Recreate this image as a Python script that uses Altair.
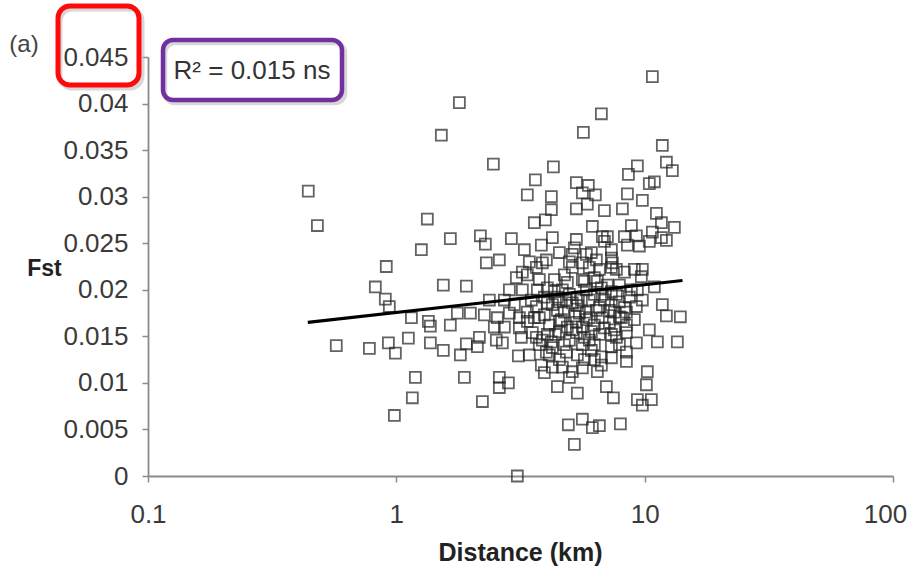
import altair as alt
import pandas as pd

# Distance (km) and Fst for each pair
distance_km = [
    0.442, 0.481, 0.573, 0.779, 0.823, 0.911, 0.903, 0.937, 0.929, 0.991,
    0.982, 1.118, 1.150, 1.193, 1.160, 1.261, 1.333, 1.346, 1.371, 1.518,
    1.546, 1.546, 1.650, 1.650, 1.761, 1.794, 1.811, 1.879, 1.914, 1.914,
    1.987, 2.160, 2.180, 2.221, 2.262, 2.283, 2.304, 2.459, 1.371, 2.120,
    3.369, 3.629, 4.210, 4.290, 4.210, 5.308, 5.308, 5.612, 5.664, 5.877,
    5.932, 6.330, 6.693, 6.882, 8.134, 8.521, 8.600, 9.346, 9.788, 10.44,
    10.74, 10.94, 11.15, 11.78, 12.23, 12.93, 3.982, 3.595, 6.156, 6.755,
    7.077, 7.345, 8.287, 9.260, 9.521, 8.521, 8.842, 10.74, 11.68, 13.17,
    11.68, 10.44, 12.23, 3.837, 4.250, 5.308, 5.210, 5.114, 6.099, 3.277,
    4.535, 2.905, 3.432, 2.599, 3.873, 4.974, 5.612, 6.570, 7.413, 7.693,
    8.287, 9.089, 9.788, 9.698, 3.043, 3.369, 3.765, 2.852, 3.217, 3.697,
    4.330, 4.662, 5.717, 5.823, 7.077, 9.346, 10.94, 3.217, 3.662, 4.019,
    5.114, 6.693, 7.345, 7.345, 7.345, 6.389, 5.823, 6.882, 2.369, 2.551,
    2.852, 3.369, 3.662, 4.056, 4.535, 4.749, 5.114, 5.458, 5.987, 6.389,
    6.882, 7.210, 7.910, 8.443, 9.260, 9.788, 11.78, 12.23, 13.92, 2.481,
    2.723, 3.129, 3.369, 3.765, 4.133, 4.619, 4.882, 5.308, 5.823, 6.272,
    6.755, 7.210, 7.910, 8.443, 9.089, 10.44, 2.527, 2.673, 3.187, 3.529,
    3.873, 4.210, 4.974, 5.308, 5.987, 6.570, 7.693, 8.443, 9.260, 11.25,
    13.54, 4.250, 5.823, 6.570, 4.535, 5.612, 3.765, 4.250, 3.432, 4.019,
    4.838, 5.358, 6.099, 3.837, 4.662, 5.717, 6.693, 3.945, 5.114, 7.345,
    7.345, 8.443, 7.345, 8.443, 10.25, 7.551, 8.287, 3.100, 2.599, 2.826,
    2.599, 4.250, 4.974, 5.612, 6.449, 4.452, 5.358, 7.012, 7.482, 10.16,
    9.346, 9.788, 10.64, 4.928, 5.612, 6.156, 6.570, 7.984, 5.210, 3.071,
    4.133, 6.693, 3.945, 4.452, 4.974, 5.561, 6.272, 7.693, 8.680, 3.497,
    2.987, 3.945, 5.210, 6.099, 7.551, 4.370, 5.612, 4.749, 6.272, 2.723,
    4.330, 6.272, 4.882, 4.056, 4.838, 5.358, 5.987, 6.755, 7.345, 8.060,
    8.842, 4.452, 3.595, 4.535, 5.114, 5.717, 6.882, 4.056, 3.129, 5.612,
    6.449, 4.749, 5.987, 7.910, 5.308, 3.662, 4.535, 6.272, 7.910,
]
fst = [
    0.0306, 0.0269, 0.0140, 0.0137, 0.0203, 0.0225, 0.0190, 0.0182, 0.0143, 0.0132,
    0.0065, 0.0148, 0.0170, 0.0106, 0.0084, 0.0243, 0.0276, 0.0166, 0.0143, 0.0366,
    0.0205, 0.0135, 0.0255, 0.0162, 0.0175, 0.0401, 0.0130, 0.0106, 0.0204, 0.0142,
    0.0175, 0.0149, 0.0258, 0.0080, 0.0173, 0.0249, 0.0229, 0.0335, 0.0161, 0.0139,
    0.0302, 0.0318, 0.0300, 0.0332, 0.0286, 0.0287, 0.0315, 0.0304, 0.0369, 0.0292,
    0.0312, 0.0302, 0.0389, 0.0285, 0.0287, 0.0303, 0.0324, 0.0333, 0.0296, 0.0314,
    0.0429, 0.0316, 0.0282, 0.0355, 0.0337, 0.0328, 0.0275, 0.0272, 0.0268, 0.0257,
    0.0257, 0.0243, 0.0257, 0.0258, 0.0247, 0.0248, 0.0269, 0.0262, 0.0272, 0.0267,
    0.0256, 0.0252, 0.0253, 0.0248, 0.0256, 0.0254, 0.0245, 0.0238, 0.0240, 0.0243,
    0.0240, 0.0255, 0.0230, 0.0232, 0.0229, 0.0230, 0.0229, 0.0222, 0.0229, 0.0222,
    0.0219, 0.0222, 0.0222, 0.0214, 0.0213, 0.0216, 0.0211, 0.0200, 0.0200, 0.0200,
    0.0198, 0.0200, 0.0209, 0.0200, 0.0205, 0.0200, 0.0203, 0.0219, 0.0224, 0.0232,
    0.0224, 0.0202, 0.0234, 0.0224, 0.0198, 0.0232, 0.0238, 0.0252, 0.0189, 0.0170,
    0.0175, 0.0176, 0.0182, 0.0186, 0.0187, 0.0176, 0.0186, 0.0175, 0.0189, 0.0178,
    0.0189, 0.0178, 0.0187, 0.0176, 0.0182, 0.0189, 0.0184, 0.0172, 0.0171, 0.0160,
    0.0160, 0.0159, 0.0166, 0.0170, 0.0162, 0.0168, 0.0160, 0.0165, 0.0168, 0.0162,
    0.0170, 0.0165, 0.0171, 0.0162, 0.0168, 0.0157, 0.0146, 0.0143, 0.0149, 0.0154,
    0.0146, 0.0144, 0.0146, 0.0154, 0.0146, 0.0152, 0.0149, 0.0154, 0.0143, 0.0144,
    0.0144, 0.0184, 0.0176, 0.0181, 0.0155, 0.0160, 0.0141, 0.0138, 0.0130, 0.0133,
    0.0133, 0.0130, 0.0135, 0.0119, 0.0117, 0.0125, 0.0119, 0.0111, 0.0112, 0.0152,
    0.0139, 0.0133, 0.0127, 0.0123, 0.0112, 0.0176, 0.0181, 0.0129, 0.0106, 0.0100,
    0.0095, 0.0117, 0.0106, 0.0116, 0.0112, 0.0096, 0.0089, 0.0096, 0.0084, 0.0098,
    0.0082, 0.0076, 0.0082, 0.0055, 0.0061, 0.0052, 0.0054, 0.0056, 0.0034, 0.0000,
    0.0130, 0.0128, 0.0192, 0.0192, 0.0195, 0.0189, 0.0195, 0.0195, 0.0192, 0.0189,
    0.0184, 0.0173, 0.0172, 0.0155, 0.0157, 0.0152, 0.0141, 0.0141, 0.0141, 0.0189,
    0.0211, 0.0213, 0.0208, 0.0202, 0.0189, 0.0183, 0.0170, 0.0195, 0.0184, 0.0170,
    0.0200, 0.0178, 0.0170, 0.0166, 0.0157, 0.0149, 0.0159, 0.0152, 0.0170, 0.0211,
    0.0209, 0.0216, 0.0224, 0.0205, 0.0191, 0.0149, 0.0125, 0.0125, 0.0141,
]

# Fitted line end points
trend_km = [0.44, 14.2]
trend_fst = [0.0165, 0.0210]

x_ticks = [0.1, 1, 10, 100]
y_ticks = [0, 0.005, 0.01, 0.015, 0.02, 0.025, 0.03, 0.035, 0.04, 0.045]

FONT = "Liberation Sans"

pts = pd.DataFrame({"km": distance_km, "fst": fst})
trend = pd.DataFrame({"km": trend_km, "fst": trend_fst})
one = pd.DataFrame({"k": [0]})

x_enc = alt.X(
    "km:Q",
    scale=alt.Scale(type="log", domain=[0.1, 100]),
    axis=alt.Axis(
        values=x_ticks, format="~g", grid=False, labelFlush=False,
        labelOffset={"condition": {"test": "datum.value >= 100", "value": -8}, "value": 0},
        title="Distance (km)", titleFont=FONT, titleFontSize=25, titleFontWeight="bold",
        titleColor="#222222", titleX=372, titleY=76, titleBaseline="middle",
        labelFont=FONT, labelFontSize=26, labelColor="#3a3a3a", labelPadding=19,
        tickColor="#8a8a8a", tickSize=6, tickWidth=1.5,
        domainColor="#8a8a8a", domainWidth=1.8,
    ),
)
y_enc = alt.Y(
    "fst:Q",
    scale=alt.Scale(domain=[0, 0.045]),
    axis=alt.Axis(
        values=y_ticks, format="~g", grid=False, labelFlush=False,
        title="Fst", titleFont=FONT, titleFontSize=23, titleFontWeight="bold",
        titleColor="#222222", titleAngle=0, titleX=-104, titleY=211,
        titleAlign="center", titleBaseline="middle",
        labelFont=FONT, labelFontSize=26, labelColor="#3a3a3a", labelPadding=14,
        tickColor="#8a8a8a", tickSize=6, tickWidth=1.5,
        domainColor="#8a8a8a", domainWidth=1.8,
    ),
)

points = alt.Chart(pts).mark_point(
    shape="square", filled=False, size=120, strokeWidth=1.8, color="#222222"
).encode(x=x_enc, y=y_enc)

line = alt.Chart(trend).mark_line(color="#000000", strokeWidth=3.2).encode(
    x="km:Q", y="fst:Q"
)

red_shadow = alt.Chart(one).mark_rect(
    fill="transparent", stroke="#b0b0b0", strokeOpacity=0.5, strokeWidth=5, cornerRadius=12
).encode(x=alt.value(-88), x2=alt.value(-6), y=alt.value(-48), y2=alt.value(31))
red_box = alt.Chart(one).mark_rect(
    fill="transparent", stroke="#ff0a0a", strokeWidth=5, cornerRadius=12
).encode(x=alt.value(-90), x2=alt.value(-9), y=alt.value(-51), y2=alt.value(28))

purple_shadow = alt.Chart(one).mark_rect(
    fill="transparent", stroke="#b0b0b0", strokeOpacity=0.5, strokeWidth=4.5, cornerRadius=10
).encode(x=alt.value(17), x2=alt.value(197), y=alt.value(-14), y2=alt.value(46))
purple_box = alt.Chart(one).mark_rect(
    fill="transparent", stroke="#7030a0", strokeWidth=4.5, cornerRadius=10
).encode(x=alt.value(15), x2=alt.value(194), y=alt.value(-17), y2=alt.value(43))

r2_text = alt.Chart(one).mark_text(
    text="R² = 0.015 ns", font=FONT, fontSize=26, color="#333333",
    align="center", baseline="middle"
).encode(x=alt.value(104), y=alt.value(14))

panel_text = alt.Chart(one).mark_text(
    text="(a)", font=FONT, fontSize=24, color="#444444",
    align="center", baseline="middle"
).encode(x=alt.value(-124), y=alt.value(-12))

chart = alt.layer(
    points, line, red_shadow, red_box, purple_shadow, purple_box, r2_text, panel_text
).properties(
    width=745,
    height=419,
    padding={"left": 148, "top": 57, "right": 20, "bottom": 94},
    autosize=alt.AutoSizeParams(type="none"),
    background="white",
).configure_view(stroke="transparent")

chart.save("out.html", embed_options={"renderer": "svg", "actions": False})
